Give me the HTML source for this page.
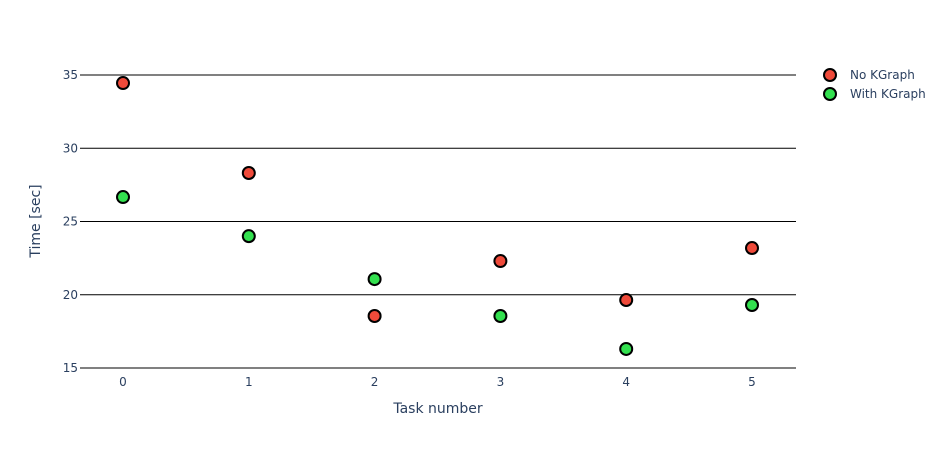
<!DOCTYPE html>
<html><head><meta charset="utf-8">
<style>
html,body{margin:0;padding:0;background:#fff;}
svg{display:block;font-family:"DejaVu Sans","Liberation Sans",sans-serif;}
</style></head>
<body>
<svg id="chart" width="944" height="453" viewBox="0 0 944 453"></svg>
<script>
const categories = [0, 1, 2, 3, 4, 5];
const noKGraph = [34.45, 28.31, 18.55, 22.3, 19.64, 23.19];
const withKGraph = [26.67, 24.0, 21.07, 18.55, 16.3, 19.3];
const yTicks = [15, 20, 25, 30, 35];
const xTicks = [0, 1, 2, 3, 4, 5];
const seriesNames = ["No KGraph", "With KGraph"];

const NS = "http://www.w3.org/2000/svg";
const svg = document.getElementById("chart");
const plotL = 80, plotR = 796;
function xScale(v){ return 123 + v * 125.8; }
function yScale(v){ return 368 - (v - 15) * 14.65; }
function mk(tag, attrs, parent){
  const e = document.createElementNS(NS, tag);
  for (const k in attrs) e.setAttribute(k, attrs[k]);
  (parent || svg).appendChild(e);
  return e;
}
const colors = ["#ef4a3a", "#33e04f"];

const grid = mk("g", {});


yTicks.forEach(t => {
  const l = mk("line", {x1: plotL, x2: plotR, y1: yScale(t), y2: yScale(t), stroke: "#000", "stroke-width": 1}, grid);
  
  
  const tx = mk("text", {x: 78, y: yScale(t) + 4, "text-anchor": "end", "font-size": 12, fill: "#2a3f5f"});
  tx.textContent = t;
  
  
});
xTicks.forEach(t => {
  const tx = mk("text", {x: xScale(t), y: 386, "text-anchor": "middle", "font-size": 12, fill: "#2a3f5f"});
  tx.textContent = t;
  
  
});
const yt = mk("text", {x: 0, y: 0, transform: "translate(40,221) rotate(-90)", "text-anchor": "middle", "font-size": 14, fill: "#2a3f5f"});
yt.textContent = "Time [sec]";


const xt = mk("text", {x: 438, y: 413, "text-anchor": "middle", "font-size": 14, fill: "#2a3f5f"});
xt.textContent = "Task number";



[noKGraph, withKGraph].forEach((series, si) => {
  const g = mk("g", {});
  
  
  series.forEach((v, i) => {
    const c = mk("circle", {cx: xScale(categories[i]), cy: yScale(v), r: 6, fill: colors[si], stroke: "#000", "stroke-width": 2}, g);
    
    
  });
  const lg = mk("g", {});
  
  
  const ly = 75 + si * 19;
  mk("circle", {cx: 830, cy: ly, r: 6, fill: colors[si], stroke: "#000", "stroke-width": 2}, lg);
  const lt = mk("text", {x: 850, y: ly + 4, "font-size": 12, fill: "#2a3f5f"}, lg);
  lt.textContent = seriesNames[si];
});
</script>
</body></html>
